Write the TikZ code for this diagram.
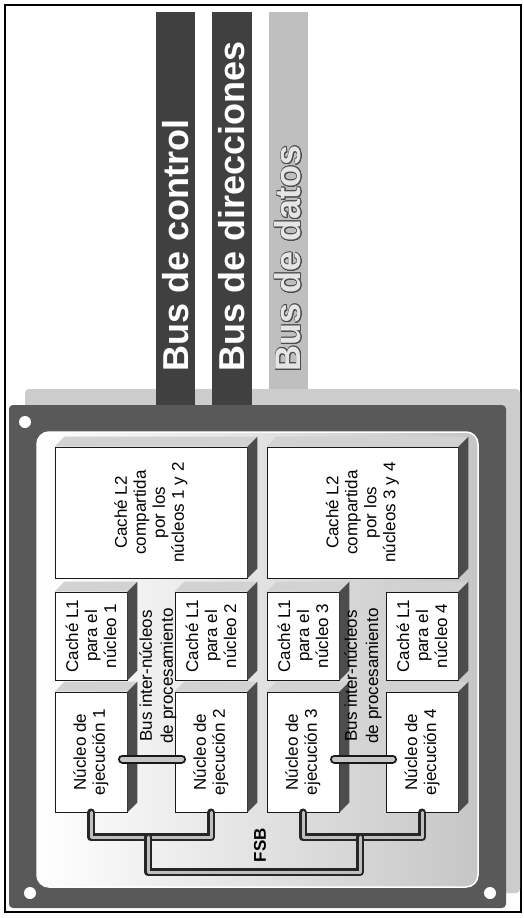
\documentclass[tikz,border=0pt]{standalone}
\usepackage{fontspec}
\setmainfont{Liberation Sans}
\usepackage{contour}
\contourlength{0.9pt}
\usetikzlibrary{calc}
\newcommand{\caras}[1]{\fill[gray!35] (#1.north west) -- ++(10,-10) -- ([shift={(10,-10)}]#1.north east) -- (#1.north east) -- cycle;
\fill[black!70] (#1.north east) -- ([shift={(10,-10)}]#1.north east) -- ([shift={(10,-10)}]#1.south east) -- (#1.south east) -- cycle;}

\begin{document}
\begin{tikzpicture}[x=1pt,y=-1pt,
  caja/.style={draw=black!90,line width=0.9,fill=white},
  txt/.style={rotate=90,align=center,font=\fontsize{17}{19}\selectfont},
  buslbl/.style={rotate=90,anchor=west,inner sep=0,font=\fontsize{36}{40}\selectfont\bfseries},
  fsb/.style={draw=black!85,line width=2.5,double=gray!50,double distance=3,line cap=round,line join=round},
  ibus/.style={draw=black!90,line width=2,double=gray!45,double distance=5,line cap=round}]
\useasboundingbox (0,0) rectangle (524,918);
\fill[white] (0,0) rectangle (524,918);
\draw[line width=1.2] (5,5) rectangle (521,912);
% buses del sistema
\fill[gray!40,rounded corners=4] (25,389) rectangle (520,893);
\fill[black!75] (156,12) rectangle (195,405);
\fill[black!75] (212,12) rectangle (252,405);
\fill[gray!50] (269,12) rectangle (308,389);
\node[buslbl,white] (bc) at (175.5,372) {Bus de control};
\node[buslbl,white] (bd) at (232,372) {Bus de direcciones};
\node[buslbl,gray!20] (bt) at (288.5,372) {\contour{black!70}{Bus de datos}};
% chip
\fill[black!65,rounded corners=4] (9,405) rectangle (506,908);
\shade[left color=white,right color=gray!45,rounded corners=12] (37,432) rectangle (478,887);
\draw[white,line width=1.5,rounded corners=12] (37,432) rectangle (478,887);
\fill[white] (25,422) circle (6) (30,893) circle (6) (490,893) circle (6);
% cajas
\node[caja,minimum width=192,minimum height=131] (l2a) at (151,512.5) {};
\node[caja,minimum width=191,minimum height=131] (l2b) at (362.5,512.5) {};
\node[caja,minimum width=72,minimum height=88] (l1a) at (91,636) {};
\node[caja,minimum width=72,minimum height=88] (l1b) at (211,636) {};
\node[caja,minimum width=72,minimum height=88] (l1c) at (303,636) {};
\node[caja,minimum width=72,minimum height=88] (l1d) at (422,636) {};
\node[caja,minimum width=72,minimum height=120] (n1) at (91,752) {};
\node[caja,minimum width=72,minimum height=120] (n2) at (211,752) {};
\node[caja,minimum width=72,minimum height=120] (n3) at (303,752) {};
\node[caja,minimum width=72,minimum height=120] (n4) at (422,752) {};
\caras{l2a}\caras{l2b}\caras{l1a}\caras{l1b}\caras{l1c}\caras{l1d}\caras{n1}\caras{n2}\caras{n3}\caras{n4}
\node[txt] (tl2a) at (l2a) {Caché L2\\compartida\\por los\\núcleos 1 y 2};
\node[txt] (tl2b) at (l2b) {Caché L2\\compartida\\por los\\núcleos 3 y 4};
\node[txt] (tl1a) at (l1a) {Caché L1\\para el\\núcleo 1};
\node[txt] (tl1b) at (l1b) {Caché L1\\para el\\núcleo 2};
\node[txt] (tl1c) at (l1c) {Caché L1\\para el\\núcleo 3};
\node[txt] (tl1d) at (l1d) {Caché L1\\para el\\núcleo 4};
\node[txt] (tn1) at (n1) {Núcleo de\\ejecución 1};
\node[txt] (tn2) at (n2) {Núcleo de\\ejecución 2};
\node[txt] (tn3) at (n3) {Núcleo de\\ejecución 3};
\node[txt] (tn4) at (n4) {Núcleo de\\ejecución 4};
% buses internos
\node[txt,font=\fontsize{17}{21}\selectfont] (ia) at (158,676) {Bus inter-núcleos\\de procesamiento};
\node[txt,font=\fontsize{17}{21}\selectfont] (ib) at (363,676) {Bus inter-núcleos\\de procesamiento};
\draw[ibus] ([shift={(-5,7)}]n1.east) -- ([shift={(7,7)}]n2.west);
\draw[ibus] ([shift={(-5,7)}]n3.east) -- ([shift={(7,7)}]n4.west);
\coordinate (ja) at (148,837);
\coordinate (jb) at (360,837);
\draw[fsb] (n1.south) -- ++(0,25) -| (n2.south);
\draw[fsb] (n3.south) -- ++(0,25) -| (n4.south);
\draw[fsb] (ja) -- ++(0,35) -| (jb);
\node[txt,font=\fontsize{17}{19}\selectfont\bfseries] (fsb) at (260,845) {FSB};
\end{tikzpicture}
\end{document}
